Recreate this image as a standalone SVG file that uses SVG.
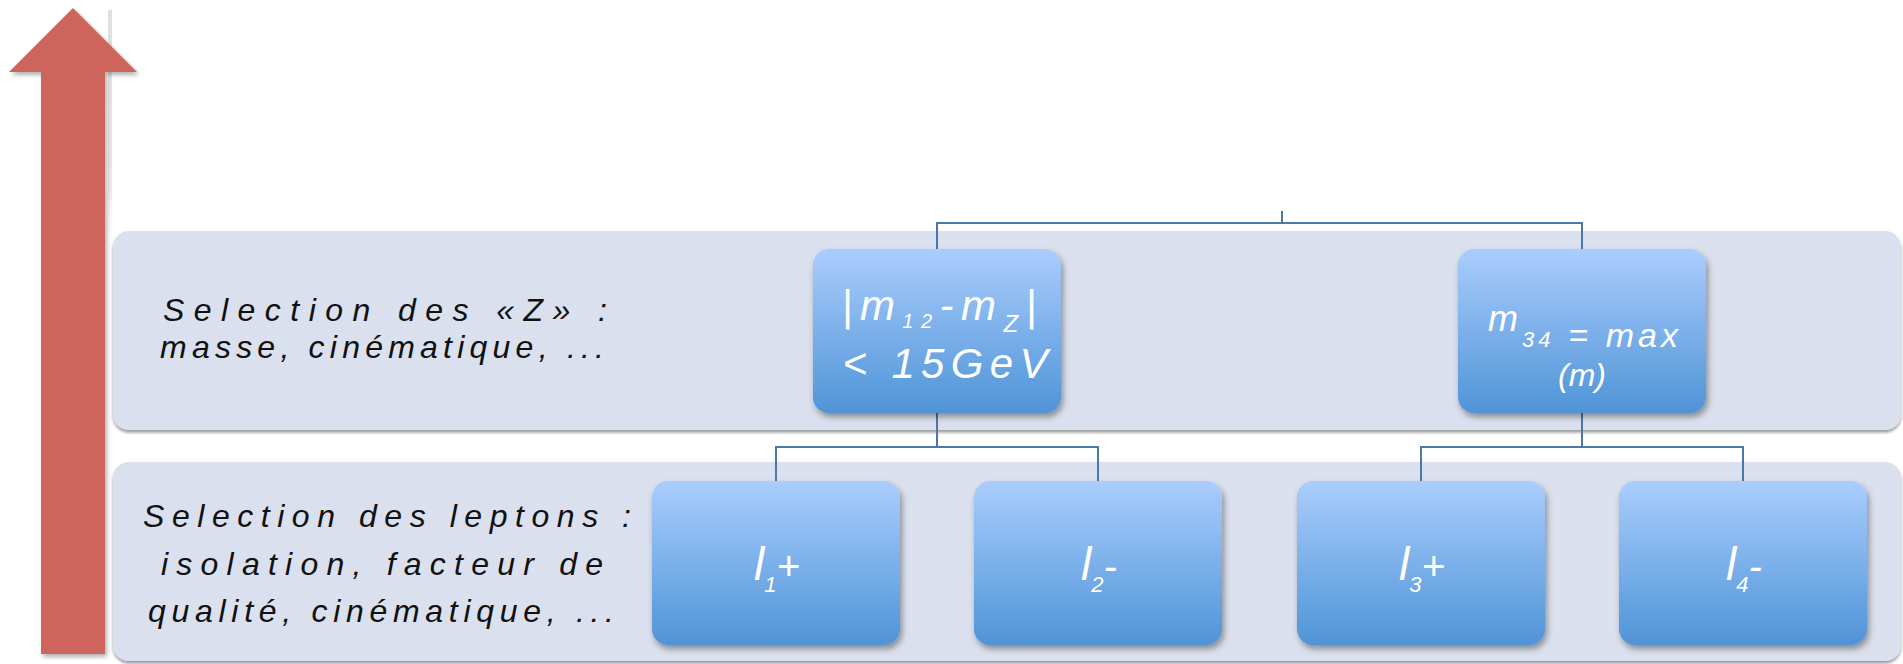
<svg xmlns="http://www.w3.org/2000/svg" width="1903" height="664" viewBox="0 0 1903 664">
  <defs>
    <linearGradient id="nodeFill" x1="0" y1="0" x2="0" y2="1">
      <stop offset="0" stop-color="#aacdfd"/>
      <stop offset="1" stop-color="#4f94d7"/>
    </linearGradient>
    <linearGradient id="edgeFade" x1="0" y1="0" x2="0" y2="1">
      <stop offset="0" stop-color="#dcdcdc" stop-opacity="0.9"/>
      <stop offset="0.8" stop-color="#e4e4e4" stop-opacity="0.8"/>
      <stop offset="1" stop-color="#ececec" stop-opacity="0"/>
    </linearGradient>
    <filter id="bandShadow" x="-2%" y="-10%" width="104%" height="125%">
      <feDropShadow dx="0" dy="2.5" stdDeviation="1.5" flood-color="#000" flood-opacity="0.4"/>
    </filter>
    <filter id="nodeShadow" x="-10%" y="-10%" width="125%" height="130%">
      <feDropShadow dx="2" dy="4" stdDeviation="3" flood-color="#000" flood-opacity="0.38"/>
    </filter>
    <filter id="arrowShadow" x="-20%" y="-5%" width="150%" height="110%">
      <feDropShadow dx="2" dy="3" stdDeviation="2" flood-color="#000" flood-opacity="0.3"/>
    </filter>
  </defs>
  <style>
    .band { fill: #dae0ed; filter: url(#bandShadow); }
    .node rect { fill: url(#nodeFill); filter: url(#nodeShadow); }
    .hand { font-family: "Liberation Sans", Arial, sans-serif; font-style: italic; fill: #111; font-size: 32px; text-anchor: middle; }
    .label { font-family: "Liberation Sans", Arial, sans-serif; font-style: italic; fill: #fff; text-anchor: middle; }
    .conn { fill: none; stroke: #4c78a8; stroke-width: 2; }
  </style>

  <rect width="1903" height="664" fill="#fff"/>

  <!-- faint vertical edge beside the arrow -->
  <rect x="108" y="10" width="4" height="220" fill="url(#edgeFade)"/>

  <!-- upward arrow -->
  <polygon id="arrow" points="73,8 137,72 105,72 105,654 41,654 41,72 9,72" fill="#cd655d" filter="url(#arrowShadow)"/>

  <!-- background bands -->
  <rect id="band-z" class="band" x="113" y="231" width="1788" height="199" rx="16"/>
  <rect id="band-leptons" class="band" x="113" y="462" width="1788" height="199" rx="16"/>

  <!-- band captions -->
  <g id="caption-z">
    <text class="hand" x="385" y="321" textLength="444" lengthAdjust="spacing">Selection des  «Z» :</text>
    <text class="hand" x="382" y="358" textLength="444" lengthAdjust="spacing">masse, cinématique, ...</text>
  </g>
  <g id="caption-leptons">
    <text class="hand" x="387" y="527" textLength="488" lengthAdjust="spacing">Selection des  leptons :</text>
    <text class="hand" x="382" y="575" textLength="442" lengthAdjust="spacing">isolation,  facteur de</text>
    <text class="hand" x="381" y="622" textLength="466" lengthAdjust="spacing">qualité, cinématique, ...</text>
  </g>

  <!-- connectors -->
  <g id="connectors">
    <path class="conn" d="M1282,211 V223 M937,249 V223 H1582 V249"/>
    <path class="conn" d="M937,413 V447 M776,481 V447 H1098 V481"/>
    <path class="conn" d="M1582,413 V447 M1421,481 V447 H1743 V481"/>
  </g>

  <!-- Z candidates -->
  <g id="node-z1" class="node">
    <rect x="813" y="249" width="248" height="164" rx="16"/>
    <text class="label" x="939" y="320" font-size="42" textLength="195" lengthAdjust="spacing">|m<tspan font-size="20" dy="8">12</tspan><tspan dy="-8">-m</tspan><tspan font-size="24" dy="12">Z</tspan><tspan dy="-12">|</tspan></text>
    <text class="label" x="945" y="378" font-size="42" textLength="205" lengthAdjust="spacing">&lt; 15GeV</text>
  </g>
  <g id="node-z2" class="node">
    <rect x="1458" y="249" width="248" height="164" rx="16"/>
    <text class="label" x="1583" y="331" font-size="36" textLength="190" lengthAdjust="spacing">m<tspan dy="16" font-size="22">34</tspan><tspan font-size="34"> = max</tspan></text>
    <text class="label" x="1582" y="386" font-size="32">(m)</text>
  </g>

  <!-- leptons -->
  <g id="node-l1" class="node">
    <rect x="652" y="481" width="248" height="164" rx="16"/>
    <text class="label" x="777" y="580" font-size="46">l<tspan font-size="22" dy="12">1</tspan><tspan dy="-12" font-size="40">+</tspan></text>
  </g>
  <g id="node-l2" class="node">
    <rect x="974" y="481" width="248" height="164" rx="16"/>
    <text class="label" x="1099" y="580" font-size="46">l<tspan font-size="22" dy="12">2</tspan><tspan dy="-12" font-size="40">-</tspan></text>
  </g>
  <g id="node-l3" class="node">
    <rect x="1297" y="481" width="248" height="164" rx="16"/>
    <text class="label" x="1422" y="580" font-size="46">l<tspan font-size="22" dy="12">3</tspan><tspan dy="-12" font-size="40">+</tspan></text>
  </g>
  <g id="node-l4" class="node">
    <rect x="1619" y="481" width="248" height="164" rx="16"/>
    <text class="label" x="1744" y="580" font-size="46">l<tspan font-size="22" dy="12">4</tspan><tspan dy="-12" font-size="40">-</tspan></text>
  </g>
</svg>
